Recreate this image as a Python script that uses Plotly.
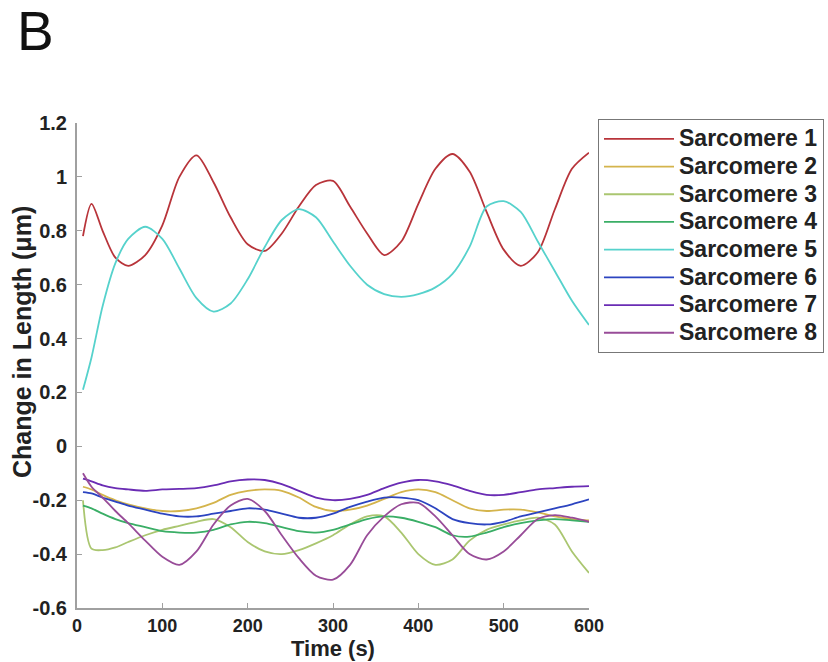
import plotly.graph_objects as go

time_s = [7, 17, 30, 45, 60, 80, 100, 120, 140, 160, 180, 200, 220, 240, 260, 280,
          300, 320, 340, 360, 380, 400, 420, 440, 460, 480, 500, 520, 540, 560, 580, 600]

sarcomere_1 = [0.78, 0.90, 0.80, 0.70, 0.67, 0.71, 0.82, 1.00, 1.08, 0.98, 0.85, 0.75,
               0.725, 0.79, 0.89, 0.97, 0.985, 0.89, 0.79, 0.71, 0.76, 0.90, 1.03, 1.085,
               1.02, 0.87, 0.73, 0.67, 0.72, 0.88, 1.03, 1.09]
sarcomere_2 = [-0.15, -0.16, -0.18, -0.20, -0.215, -0.23, -0.24, -0.24, -0.23, -0.21, -0.18,
               -0.165, -0.16, -0.165, -0.19, -0.225, -0.24, -0.235, -0.22, -0.195, -0.17,
               -0.16, -0.17, -0.20, -0.23, -0.24, -0.235, -0.235, -0.245, -0.26, -0.27, -0.275]
sarcomere_3 = [-0.20, -0.38, -0.385, -0.375, -0.355, -0.33, -0.31, -0.295, -0.28, -0.27,
               -0.30, -0.355, -0.39, -0.40, -0.385, -0.36, -0.33, -0.29, -0.26, -0.26,
               -0.32, -0.40, -0.44, -0.42, -0.35, -0.31, -0.29, -0.275, -0.265, -0.29,
               -0.39, -0.47]
sarcomere_4 = [-0.22, -0.23, -0.25, -0.27, -0.285, -0.30, -0.315, -0.32, -0.32, -0.31,
               -0.29, -0.28, -0.285, -0.30, -0.315, -0.32, -0.31, -0.29, -0.27, -0.26,
               -0.265, -0.28, -0.30, -0.33, -0.335, -0.32, -0.30, -0.285, -0.275, -0.27,
               -0.275, -0.28]
sarcomere_5 = [0.21, 0.33, 0.52, 0.68, 0.77, 0.815, 0.77, 0.66, 0.55, 0.50, 0.53, 0.62,
               0.74, 0.84, 0.88, 0.85, 0.76, 0.67, 0.60, 0.565, 0.555, 0.565, 0.59, 0.64,
               0.74, 0.89, 0.91, 0.87, 0.76, 0.65, 0.54, 0.45]
sarcomere_6 = [-0.17, -0.175, -0.19, -0.205, -0.22, -0.235, -0.25, -0.26, -0.26, -0.25,
               -0.24, -0.23, -0.235, -0.25, -0.265, -0.265, -0.25, -0.225, -0.205, -0.19,
               -0.19, -0.20, -0.23, -0.27, -0.285, -0.29, -0.28, -0.26, -0.245, -0.23,
               -0.215, -0.197]
sarcomere_7 = [-0.12, -0.13, -0.145, -0.155, -0.16, -0.165, -0.16, -0.158, -0.155, -0.145,
               -0.13, -0.123, -0.125, -0.14, -0.165, -0.19, -0.20, -0.195, -0.18, -0.155,
               -0.135, -0.125, -0.13, -0.145, -0.165, -0.18, -0.18, -0.17, -0.16, -0.155,
               -0.15, -0.148]
sarcomere_8 = [-0.10, -0.15, -0.19, -0.24, -0.285, -0.35, -0.41, -0.44, -0.39, -0.29,
               -0.22, -0.195, -0.24, -0.33, -0.415, -0.48, -0.495, -0.44, -0.33, -0.26,
               -0.215, -0.21, -0.26, -0.33, -0.40, -0.42, -0.39, -0.33, -0.27, -0.255,
               -0.265, -0.28]

series_names = ["Sarcomere 1", "Sarcomere 2", "Sarcomere 3", "Sarcomere 4",
                "Sarcomere 5", "Sarcomere 6", "Sarcomere 7", "Sarcomere 8"]
series_values = [sarcomere_1, sarcomere_2, sarcomere_3, sarcomere_4,
                 sarcomere_5, sarcomere_6, sarcomere_7, sarcomere_8]
series_colors = ["#b8343a", "#d4b44c", "#aac670", "#3aae66",
                 "#56d2cc", "#2c44c0", "#6a2cb4", "#984c98"]

x_ticks = [0, 100, 200, 300, 400, 500, 600]
y_ticks = [-0.6, -0.4, -0.2, 0, 0.2, 0.4, 0.6, 0.8, 1, 1.2]
y_tick_text = ["-0.6", "-0.4", "-0.2", "0", "0.2", "0.4", "0.6", "0.8", "1", "1.2"]

FONT = "Liberation Sans, Arial, Helvetica, sans-serif"

fig = go.Figure()
for name, vals, col in zip(series_names, series_values, series_colors):
    fig.add_trace(go.Scatter(
        x=time_s, y=vals, mode="lines",
        name=f'<span style="font-size:23px">{name}</span>',
        line=dict(color=col, width=1.8, shape="spline", smoothing=0.8),
    ))

W, H = 828, 662
L, R, T, B = 77, 239, 123, 54
pw = W - L - R
ph = H - T - B

def px(xp):
    return (xp - L) / pw

def py(yp):
    return (H - B - yp) / ph

fig.update_layout(
    width=W, height=H, autosize=False,
    margin=dict(l=L, r=R, t=T, b=B, pad=0, autoexpand=False),
    paper_bgcolor="white", plot_bgcolor="white",
    font=dict(family=FONT, color="#222222"),
    showlegend=True,
    legend=dict(
        x=px(598), y=py(119), xanchor="left", yanchor="top",
        bordercolor="#777777", borderwidth=1, bgcolor="white",
        font=dict(family=FONT, size=19, weight="bold", color="#222222"),
        itemwidth=70, traceorder="normal",
    ),
    xaxis=dict(
        range=[0, 600], tickvals=x_ticks, showgrid=False, zeroline=False,
        showline=True, linecolor="#a0a0a0", linewidth=2, mirror=False,
        ticks="inside", ticklen=5, tickcolor="#a0a0a0",
        tickfont=dict(family=FONT, size=18, weight="bold", color="#222222"),
    ),
    yaxis=dict(
        range=[-0.6, 1.2], tickvals=y_ticks, ticktext=y_tick_text, showgrid=False,
        zeroline=False, showline=True, linecolor="#a0a0a0", linewidth=2, mirror=False,
        ticks="inside", ticklen=5, tickcolor="#a0a0a0", ticklabelstandoff=4,
        tickfont=dict(family=FONT, size=20, weight="bold", color="#222222"),
    ),
    annotations=[
        dict(text="Time (s)", xref="paper", yref="paper",
             x=px(333), y=py(648), xanchor="center", yanchor="middle",
             showarrow=False, font=dict(family=FONT, size=22, weight="bold", color="#222222")),
        dict(text="Change in Length (\u03bcm)", xref="paper", yref="paper",
             x=px(22), y=py(342), xanchor="center", yanchor="middle", textangle=-90,
             showarrow=False, font=dict(family=FONT, size=25, weight="bold", color="#222222")),
        dict(text="B", xref="paper", yref="paper", x=px(15), y=py(31),
             xanchor="left", yanchor="middle", showarrow=False,
             font=dict(family=FONT, size=55, color="#111111")),
    ],
)

fig.write_html("out.html", config={"displayModeBar": False},
               post_script="document.body.style.margin='0';")
